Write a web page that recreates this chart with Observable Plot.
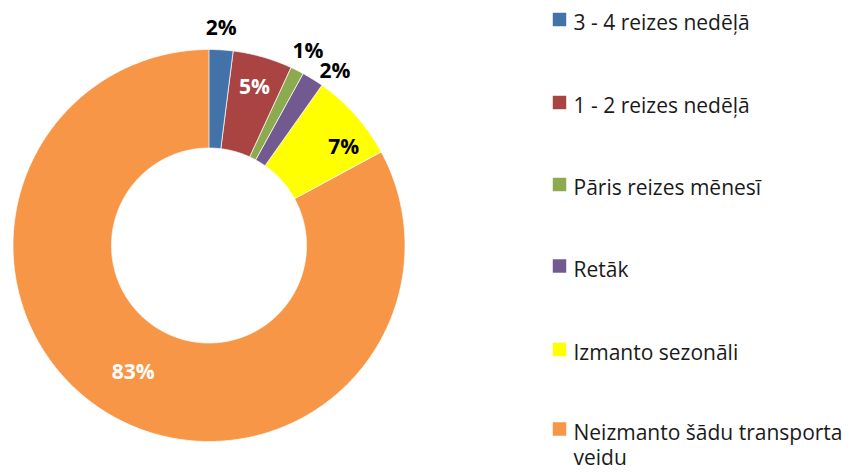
<!DOCTYPE html>
<html>
<head>
<meta charset="utf-8">
<script src="https://cdn.jsdelivr.net/npm/d3@7"></script>
<script src="https://cdn.jsdelivr.net/npm/@observablehq/plot@0.6"></script>
<style>
  html, body { margin: 0; padding: 0; background: #fff; }
  #chart { width: 855px; height: 472px; }
</style>
</head>
<body>
<div id="chart"></div>
<script>
// ---- data ----
const categories = [
  "3 - 4 reizes nedēļā",
  "1 - 2 reizes nedēļā",
  "Pāris reizes mēnesī",
  "Retāk",
  "Izmanto sezonāli",
  "Neizmanto šādu transporta veidu"
];
const legendLabels = [
  "3 - 4 reizes nedēļā",
  "1 - 2 reizes nedēļā",
  "Pāris reizes mēnesī",
  "Retāk",
  "Izmanto sezonāli",
  "Neizmanto šādu transporta\nveidu"
];
const values = [2.0, 4.9, 1.1, 1.8, 7.3, 82.9];
const valueLabels = ["2%", "5%", "1%", "2%", "7%", "83%"];
const colors = ["#4372A9", "#A94442", "#8CAB4F", "#72598F", "#FFFF00", "#F69646"];
const labelColors = ["#000000", "#FFFFFF", "#000000", "#000000", "#000000", "#FFFFFF"];

// ---- layout ----
const W = 855, H = 472;
const cx = 208.5, cy = 245, rOuter = 196, rInner = 97.5;
const labelRadius = [218, 165, 218, 215, 167, 148];
const labelAngleShift = [-0.4, 0, 0.2, 3.8, 5.4, 0]; // degrees
const legendX = 559, legendTextX = 573;
const legendY = [19, 102, 184, 265.5, 349, 428.5];

const pie = d3.pie().sort(null).value(d => d)(values);
const pt = (r, a) => ({x: cx + r * Math.sin(a), y: cy - r * Math.cos(a)});

const slices = [];
pie.forEach((p, i) => {
  const a0 = p.startAngle, a1 = p.endAngle;
  const n = Math.max(2, Math.ceil((a1 - a0) / (Math.PI / 360)));
  for (let k = 0; k <= n; k++) {
    const a = a0 + (a1 - a0) * k / n;
    slices.push({cat: categories[i], ...pt(rOuter, a)});
  }
  for (let k = n; k >= 0; k--) {
    const a = a0 + (a1 - a0) * k / n;
    slices.push({cat: categories[i], ...pt(rInner, a)});
  }
});

const labels = pie.map((p, i) => {
  const a = (p.startAngle + p.endAngle) / 2 + labelAngleShift[i] * Math.PI / 180;
  return {text: valueLabels[i], color: labelColors[i], ...pt(labelRadius[i], a)};
});

const legend = categories.map((c, i) => ({cat: c, label: legendLabels[i], y: legendY[i]}));

const chart = Plot.plot({
  width: W,
  height: H,
  margin: 0,
  x: {domain: [0, W], range: [0, W], axis: null},
  y: {domain: [0, H], range: [0, H], axis: null},
  color: {domain: categories, range: colors},
  style: {background: "#fff"},
  marks: [
    Plot.line(slices, {x: "x", y: "y", z: "cat", fill: "cat", stroke: "#ffffff", strokeWidth: 0.7, curve: "linear-closed"}),
    Plot.text(labels, {x: "x", y: "y", text: "text", fill: "color", fontSize: 21, fontWeight: "bold", fontFamily: "Open Sans", textAnchor: "middle"}),
    Plot.dot(legend, {x: () => legendX, y: "y", fill: "cat", symbol: "square", r: 7.6}),
    Plot.text(legend, {x: () => legendTextX, y: "y", text: "label", fill: "#1a1a1a", fontSize: 21, fontFamily: "Open Sans", textAnchor: "start", lineAnchor: "top", dy: -7.4, lineHeight: 1.22})
  ]
});
document.getElementById("chart").appendChild(chart);
</script>
</body>
</html>
